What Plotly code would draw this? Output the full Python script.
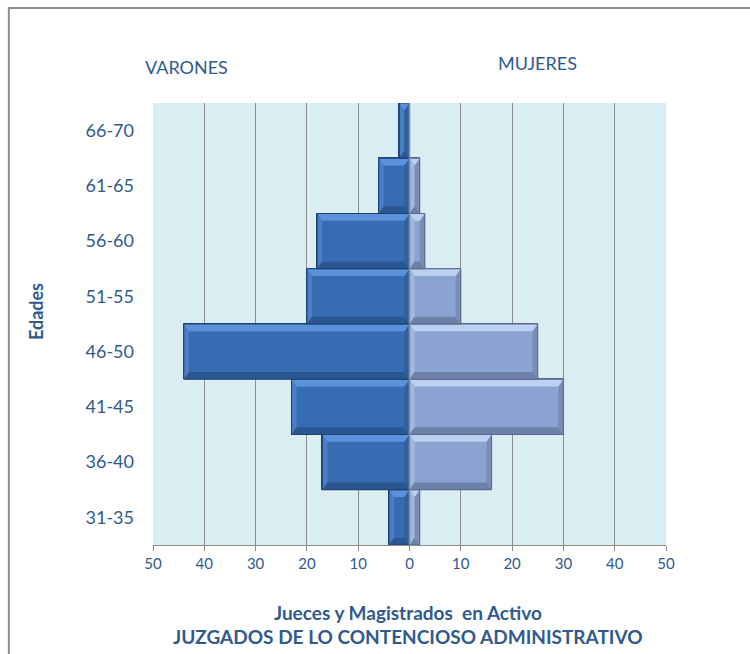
import plotly.graph_objects as go

# Age groups, bottom to top
edades = ["31-35", "36-40", "41-45", "46-50", "51-55", "56-60", "61-65", "66-70"]
varones = [4, 17, 23, 44, 20, 18, 6, 2]
mujeres = [2, 16, 30, 25, 10, 3, 2, 0]

tick_vals = [-50, -40, -30, -20, -10, 0, 10, 20, 30, 40, 50]
tick_text = ["50", "40", "30", "20", "10", "0", "10", "20", "30", "40", "50"]

TXT = "#2F5A8E"
FONT = "Lato"

pos = list(range(len(edades)))

# Bevel palettes: face, top, bottom, left, right, outline
MEN = dict(face="#386CB2", top="#5A93DC", bottom="#2A5790", left="#4A7EC6", right="#30609F",
           line="#1F416F")
WOMEN = dict(face="#8AA3D1", top="#BCD1F2", bottom="#6D80A8", left="#A0B7E0", right="#7A8DB3",
             line="#56688C")

fig = go.Figure()

fig.add_trace(go.Bar(
    y=pos, x=[-v for v in varones], orientation="h", name="Varones",
    marker=dict(color=MEN["face"], line=dict(color=MEN["line"], width=1)),
    width=1.0,
))
fig.add_trace(go.Bar(
    y=pos, x=mujeres, orientation="h", name="Mujeres",
    marker=dict(color=WOMEN["face"], line=dict(color=WOMEN["line"], width=1)),
    width=1.0,
))


def bevel(x0, x1, yc, pal):
    """Trapezoid facets giving a bar the raised, bevelled look."""
    if x1 - x0 <= 0:
        return
    y0, y1 = yc - 0.5, yc + 0.5
    bx = min(1.0, (x1 - x0) / 2)
    by = 0.13
    facets = [
        ("left", [(x0, y0), (x0, y1), (x0 + bx, y1 - by), (x0 + bx, y0 + by)]),
        ("right", [(x1, y0), (x1, y1), (x1 - bx, y1 - by), (x1 - bx, y0 + by)]),
        ("top", [(x0, y1), (x1, y1), (x1 - bx, y1 - by), (x0 + bx, y1 - by)]),
        ("bottom", [(x0, y0), (x1, y0), (x1 - bx, y0 + by), (x0 + bx, y0 + by)]),
    ]
    for key, pts in facets:
        path = "M " + " L ".join(f"{px},{py}" for px, py in pts) + " Z"
        fig.add_shape(type="path", path=path, xref="x", yref="y",
                      fillcolor=pal[key], line=dict(width=0), layer="above")
    fig.add_shape(type="rect", xref="x", yref="y", x0=x0, x1=x1, y0=y0, y1=y1,
                  line=dict(color=pal["line"], width=1), fillcolor="rgba(0,0,0,0)", layer="above")


for p, v in zip(pos, varones):
    bevel(-v, 0, p, MEN)
for p, v in zip(pos, mujeres):
    bevel(0, v, p, WOMEN)

# Zero line drawn over the bars
fig.add_shape(type="line", xref="x", yref="paper", x0=0, x1=0, y0=0, y1=1,
              line=dict(color="#8C8C8C", width=1.5), layer="above")

fig.update_layout(
    width=750, height=654,
    margin=dict(l=153, r=84, t=103, b=109),
    barmode="relative", bargap=0,
    paper_bgcolor="white", plot_bgcolor="#DAEDF3",
    showlegend=False,
    font=dict(family=FONT, color=TXT),
    xaxis=dict(
        range=[-50, 50], tickvals=tick_vals, ticktext=tick_text,
        showgrid=True, gridcolor="#8C8C8C", gridwidth=1,
        zeroline=False,
        ticks="outside", ticklen=5, tickcolor="#8C8C8C",
        showline=True, linecolor="#8C8C8C",
        tickfont=dict(size=15, color=TXT),
    ),
    yaxis=dict(
        range=[-0.5, len(edades) - 0.5],
        tickvals=pos, ticktext=edades,
        showgrid=False, zeroline=False, ticks="", ticklabelstandoff=18,
        tickfont=dict(size=18, color=TXT),
    ),
)

# Outer frame of the chart area
fig.add_shape(type="rect", xref="paper", yref="paper",
              x0=-0.281, x1=1.2, y0=-0.3, y1=1.215,
              line=dict(color="#8F8F8F", width=2), fillcolor="rgba(0,0,0,0)", layer="below")

fig.add_annotation(text="<b>Edades</b>", xref="paper", yref="paper", x=-0.228, y=0.527,
                   xanchor="center", yanchor="middle", showarrow=False, textangle=-90,
                   font=dict(size=18, color=TXT))
fig.add_annotation(text="VARONES", xref="paper", yref="paper", x=0.066, y=1.081,
                   xanchor="center", yanchor="middle", showarrow=False,
                   font=dict(size=18, color=TXT))
fig.add_annotation(text="MUJERES", xref="paper", yref="paper", x=0.749, y=1.09,
                   xanchor="center", yanchor="middle", showarrow=False,
                   font=dict(size=18, color=TXT))
fig.add_annotation(text="<b>Jueces y Magistrados  en Activo</b>", xref="paper", yref="paper",
                   x=0.497, y=-0.152, xanchor="center", yanchor="middle", showarrow=False,
                   font=dict(size=19, color=TXT))
fig.add_annotation(text="<b>JUZGADOS DE LO CONTENCIOSO ADMINISTRATIVO</b>", xref="paper", yref="paper",
                   x=0.497, y=-0.206, xanchor="center", yanchor="middle", showarrow=False,
                   font=dict(size=19, color=TXT))

fig.write_html("out.html")
